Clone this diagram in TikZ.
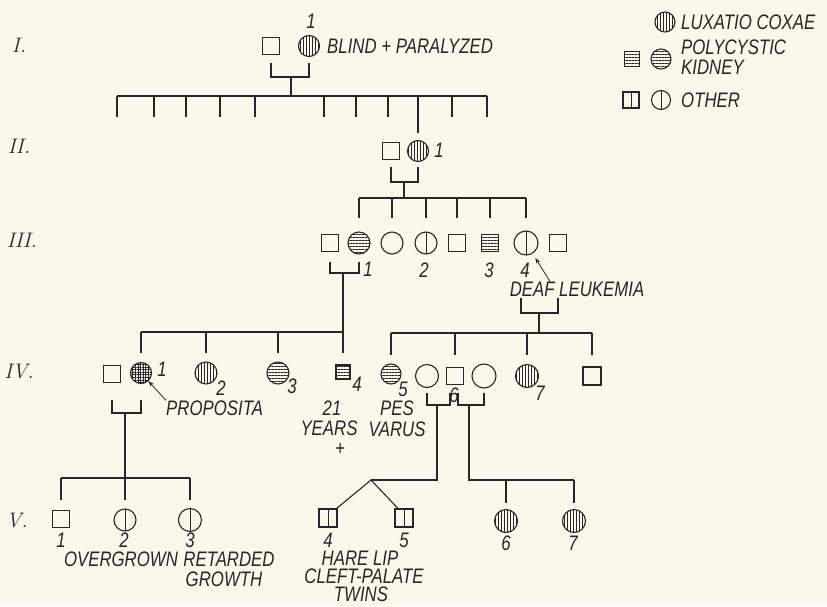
\documentclass[tikz,border=0pt]{standalone}
\usepackage{fontspec}
\newfontfamily\pedsf{Liberation Sans}[FakeStretch=0.8]
\usetikzlibrary{arrows.meta,patterns.meta}
\definecolor{paper}{HTML}{FAF8EB}
\definecolor{ink}{HTML}{262626}
\newcommand\pedfont{\pedsf\itshape\fontsize{21}{21}\selectfont}
\newcommand\genfont{\rmfamily\itshape\fontsize{21}{21}\selectfont}
\tikzset{
  ped/.style={draw=ink,line width=1.1pt,inner sep=0pt},
  male/.style={ped,rectangle,minimum size=17pt},
  female/.style={ped,circle,minimum size=21pt},
  lux/.style={pattern={Lines[angle=90,distance=3pt,line width=0.6pt]},pattern color=ink},
  poly/.style={pattern={Lines[angle=0,distance=3pt,line width=0.6pt]},pattern color=ink},
  prop/.style={pattern={Hatch[angle=0,distance=2.6pt,line width=0.6pt]},pattern color=ink},
  oth/.style={path picture={\draw[ink,line width=0.8pt] (path picture bounding box.north) -- (path picture bounding box.south);}},
  num/.style={font=\pedfont,text=ink,inner sep=0pt},
  lbl/.style={num},
  gen/.style={font=\genfont,text=ink,inner sep=0pt},
  line/.style={draw=ink,line width=1.1pt},
  ar/.style={-{Stealth[length=6pt,width=4pt]},draw=ink,line width=0.8pt},
}

\begin{document}
\begin{tikzpicture}[x=1pt,y=-1pt]
  \fill[paper] (0,0) rectangle (827,606);
  \useasboundingbox (0,0) rectangle (827,606);
  % generations
  \node[gen] (gI) at (19,45) {I.};
  \node[gen] (gII) at (19,146) {II.};
  \node[gen] (gIII) at (22,240) {III.};
  \node[gen] (gIV) at (19,372) {IV.};
  \node[gen] (gV) at (17,521) {V.};

  % legend
  \node[female,lux,minimum size=20pt] (Llux) at (665,22) {};
  \node[lbl,anchor=west] (tlux) at (681,22) {LUXATIO COXAE};
  \node[male,poly,minimum size=15pt] (Lpolym) at (632,59) {};
  \node[female,poly,minimum size=20pt] (Lpolyf) at (661,59) {};
  \node[lbl,anchor=west] (tpoly) at (681,47) {POLYCYSTIC};
  \node[lbl,anchor=west] (tkid) at (681,67) {KIDNEY};
  \node[male,oth,minimum size=16pt] (Lothm) at (631,100) {};
  \node[female,oth,minimum size=19pt] (Lothf) at (661,100) {};
  \node[lbl,anchor=west] (toth) at (681,100) {OTHER};

  % I
  \node[male] (I0) at (271,46) {};
  \node[female,lux] (I1) at (309,46) {};
  \node[num] (nI1) at (311,21) {1};
  \node[lbl,anchor=west] (tblind) at (327,46) {BLIND + PARALYZED};
  \coordinate (mI) at (291,77);
  \coordinate (sI) at (291,96);
  \draw[line] (I0 |- 0,63) |- (mI) -| (I1 |- 0,63);
  \draw[line] (mI) -- (sI);
  \foreach \x [count=\i] in {117,154,186,220,255,324,356,388,452,487}
    \coordinate (cI\i) at (\x,117);
  \draw[line] (sI -| cI1) -- (sI -| cI10);
  \foreach \i in {1,...,10} \draw[line] (sI -| cI\i) -- (cI\i);

  % II
  \node[male] (II0) at (391,151) {};
  \node[female,lux] (II1) at (418,151) {};
  \node[num] (nII1) at (439,150) {1};
  \draw[line] (sI -| II1) -- (II1 |- 0,133);
  \coordinate (mII) at (404,182);
  \coordinate (sIII) at (404,198);
  \draw[line] (II0 |- 0,167) |- (mII) -| (II1 |- 0,167);
  \draw[line] (mII) -- (sIII);

  % III
  \node[male] (III0) at (330,243) {};
  \node[female,poly,minimum size=22pt] (III1) at (359,243) {};
  \node[female,minimum size=22pt] (III2) at (392,243) {};
  \node[female,oth,minimum size=22pt] (III3) at (426,243) {};
  \node[male] (III4) at (457,243) {};
  \node[male,poly] (III5) at (490,243) {};
  \node[female,oth,minimum size=24pt] (III6) at (526,243) {};
  \node[male] (III7) at (558,243) {};
  \draw[line] (sIII -| III1) -- (sIII -| III6);
  \foreach \c in {III1,III2,III3,III4,III5,III6}
    \draw[line] (sIII -| \c) -- (\c |- 0,218);
  \node[num] (nIII1) at (368,269) {1};
  \node[num] (nIII3) at (424,270) {2};
  \node[num] (nIII5) at (489,270) {3};
  \node[num] (nIII6) at (525,270) {4};
  \node[lbl] (tdeaf) at (577,289) {DEAF LEUKEMIA};
  \draw[ar,shorten >=5pt] ([xshift=-27pt]tdeaf.north) -- (III6);
  \coordinate (mIII) at (343,273);
  \coordinate (sIVa) at (343,332);
  \draw[line] (III0 |- 0,262) |- (mIII) -| (III1 |- 0,262);
  \coordinate (kd) at (521,298);
  \coordinate (mIIIb) at (539,313);
  \coordinate (sIVb) at (539,333);
  \draw[line] (kd) |- (mIIIb) -| (III7 |- 0,298);
  \draw[line] (mIIIb) -- (sIVb);

  % IV
  \node[male] (IV0) at (112,374) {};
  \node[female,prop] (IV1) at (141,373) {};
  \node[female,lux,minimum size=22pt] (IV2) at (206,373) {};
  \node[female,poly,minimum size=22pt] (IV3) at (278,373) {};
  \node[male,poly,minimum size=14pt] (IV4) at (343,372) {};
  \node[female,poly,minimum size=20pt] (IV5) at (391,374) {};
  \node[female,minimum size=23pt] (IVw1) at (427,376) {};
  \node[male] (IV6) at (455,376) {};
  \node[female,minimum size=24pt] (IVw2) at (484,376) {};
  \node[female,lux,minimum size=23pt] (IV7) at (527,376) {};
  \node[male,minimum size=18pt] (IV8) at (592,376) {};
  \draw[line] (mIII) -- (sIVa);
  \draw[line] (sIVa -| IV1) -- (sIVa -| IV4);
  \foreach \c in {IV1,IV2,IV3,IV4}
    \draw[line] (sIVa -| \c) -- (\c |- 0,353);
  \draw[line] (sIVb -| IV5) -- (sIVb -| IV8);
  \foreach \c in {IV5,IV6,IV7,IV8}
    \draw[line] (sIVb -| \c) -- (\c |- 0,355);
  \node[num] (nIV1) at (162,369) {1};
  \node[num] (nIV2) at (221,388) {2};
  \node[num] (nIV3) at (292,386) {3};
  \node[num] (nIV4) at (357,384) {4};
  \node[num] (nIV5) at (403,389) {5};
  \node[num] (nIV6) at (454,395) {6};
  \node[num] (nIV7) at (540,393) {7};
  \node[lbl,anchor=west] (tprop) at (166,408) {PROPOSITA};
  \draw[ar] (tprop.north west) -- (IV1);
  \node[lbl] (t21) at (332,408) {21};
  \node[lbl] (tyears) at (329,428) {YEARS};
  \node[lbl] (tdead) at (340,449) {+};
  \node[lbl] (tpes) at (397,408) {PES};
  \node[lbl] (tvarus) at (397,429) {VARUS};
  \coordinate (mIV) at (125,413);
  \coordinate (sV) at (125,478);
  \draw[line] (IV0 |- 0,400) |- (mIV) -| (IV1 |- 0,400);
  \draw[line] (mIV) -- (sV);
  \coordinate (k6a) at (450,393);
  \coordinate (k6b) at (458,393);
  \coordinate (mIVa) at (437,405);
  \coordinate (mIVb) at (469,405);
  \draw[line] (IVw1 |- 0,393) |- (mIVa) -| (k6a);
  \draw[line] (k6b) |- (mIVb) -| (IVw2 |- 0,393);
  \coordinate (tw) at (371,480);
  \coordinate (sVb) at (469,480);
  \draw[line] (mIVa) |- (tw);

  % V
  \node[male] (V1) at (61,519) {};
  \node[female,oth,minimum size=22pt] (V2) at (125,520) {};
  \node[female,oth,minimum size=23pt] (V3) at (190,520) {};
  \node[male,oth,minimum size=18pt] (V4) at (328,518) {};
  \node[male,oth,minimum size=18pt] (V5) at (404,518) {};
  \node[female,lux,minimum size=23pt] (V6) at (506,521) {};
  \node[female,lux,minimum size=23pt] (V7) at (574,521) {};
  \draw[line] (sV -| V1) -- (sV -| V3);
  \foreach \c in {V1,V2,V3}
    \draw[line] (sV -| \c) -- (\c |- 0,500);
  \draw[line] ([xshift=-1pt]V4.north east) -- (tw) -- ([xshift=-6pt]V5.north);
  \draw[line] (mIVb) -- (sVb) -- (sVb -| V7);
  \foreach \c in {V6,V7}
    \draw[line] (sVb -| \c) -- (\c |- 0,503);
  \node[num] (nV1) at (61,540) {1};
  \node[num] (nV2) at (124,540) {2};
  \node[num] (nV3) at (190,540) {3};
  \node[num] (nV4) at (328,540) {4};
  \node[num] (nV5) at (404,540) {5};
  \node[num] (nV6) at (506,543) {6};
  \node[num] (nV7) at (573,543) {7};
  \node[lbl] (tover) at (121,559) {OVERGROWN};
  \node[lbl] (tret) at (229,559) {RETARDED};
  \node[lbl] (tgrow) at (224,579) {GROWTH};
  \node[lbl] (thare) at (360,558) {HARE LIP};
  \node[lbl] (tcleft) at (364,576) {CLEFT-PALATE};
  \node[lbl] (ttwins) at (361,594) {TWINS};
\end{tikzpicture}
\end{document}
